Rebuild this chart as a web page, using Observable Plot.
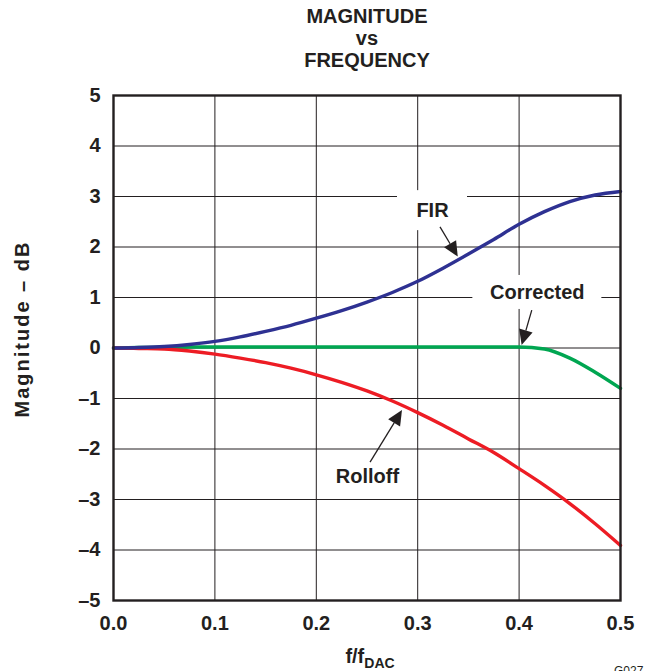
<!DOCTYPE html>
<html><head><meta charset="utf-8">
<script src="https://cdn.jsdelivr.net/npm/d3@7"></script>
<script src="https://cdn.jsdelivr.net/npm/@observablehq/plot@0.6"></script>
<style>
html,body{margin:0;padding:0;background:#fff;overflow:hidden;}
#wrap{position:relative;width:662px;height:671px;overflow:hidden;font-family:"Liberation Sans",Arial,Helvetica,sans-serif;font-weight:bold;color:#231f20;}
#wrap svg{position:absolute;left:0;top:0;}
.title{position:absolute;left:367px;top:5px;transform:translateX(-50%);font-size:20px;line-height:22px;text-align:center;white-space:nowrap;}
.ylab{position:absolute;left:22px;top:329px;transform:translate(-50%,-50%) rotate(-90deg);font-size:20px;line-height:20px;white-space:nowrap;letter-spacing:2px;}
.xlab{position:absolute;left:370px;top:646px;transform:translateX(-50%);font-size:20px;line-height:20px;white-space:nowrap;}
.xlab sub{font-size:14px;line-height:0;vertical-align:-5px;}
.code{position:absolute;left:614px;top:665px;font-size:12px;line-height:12px;font-weight:normal;white-space:nowrap;}
</style></head><body><div id="wrap"></div>
<script>
// Data
const freq      = [0, 0.025, 0.05, 0.075, 0.1, 0.125, 0.15, 0.175, 0.2, 0.225, 0.25, 0.275, 0.3, 0.325, 0.35, 0.375, 0.4, 0.425, 0.45, 0.475, 0.5];
const fir       = [0, 0.01, 0.03, 0.07, 0.13, 0.22, 0.33, 0.45, 0.59, 0.74, 0.91, 1.1, 1.32, 1.58, 1.86, 2.15, 2.45, 2.7, 2.9, 3.03, 3.1];
const rolloff   = [0, -0.01, -0.02, -0.06, -0.12, -0.2, -0.29, -0.4, -0.53, -0.68, -0.85, -1.05, -1.28, -1.53, -1.8, -2.07, -2.39, -2.72, -3.08, -3.48, -3.91];
const corrected = [0, 0.01, 0.01, 0.02, 0.02, 0.02, 0.02, 0.02, 0.02, 0.02, 0.02, 0.02, 0.02, 0.02, 0.02, 0.02, 0.02, -0.02, -0.2, -0.48, -0.8];

const xTicks = [0, 0.1, 0.2, 0.3, 0.4, 0.5];
const yTicks = [-5, -4, -3, -2, -1, 0, 1, 2, 3, 4, 5];

const labelNames = ["FIR", "Corrected", "Rolloff"];
const labelX = [0.3146, 0.418, 0.2505];
const labelY = [2.72, 1.10, -2.54];

// annotation arrows: tail (x1,y1) -> head (x2,y2), data units
const arrowX1 = [0.3225, 0.413, 0.2535];
const arrowY1 = [2.39, 0.74, -2.27];
const arrowX2 = [0.340, 0.403, 0.285];
const arrowY2 = [1.80, 0.05, -1.24];

const toRows = vals => freq.map((f, i) => ({f, v: vals[i]}));
const labels = labelNames.map((t, i) => ({t, x: labelX[i], y: labelY[i]}));

const ink = "#231f20";
const boxSize = {FIR: [70, 40], Corrected: [129, 34], Rolloff: [95, 35]};

function boxes(index, scales) {
  const g = d3.create("svg:g");
  labels.forEach(l => {
    const [w, h] = boxSize[l.t];
    const cx = scales.x(l.x), cy = scales.y(l.y);
    g.append("rect").attr("x", cx - w / 2).attr("y", cy - h / 2)
      .attr("width", w).attr("height", h).attr("fill", "white");
  });
  return g.node();
}

function arrows(index, scales) {
  const g = d3.create("svg:g");
  const head = 15, half = 7;
  for (let i = 0; i < arrowX1.length; i++) {
    const x1 = scales.x(arrowX1[i]), y1 = scales.y(arrowY1[i]);
    const x2 = scales.x(arrowX2[i]), y2 = scales.y(arrowY2[i]);
    const dx = x2 - x1, dy = y2 - y1, len = Math.hypot(dx, dy);
    const ux = dx / len, uy = dy / len;
    const bx = x2 - ux * head, by = y2 - uy * head;
    const px = -uy, py = ux;
    g.append("line").attr("x1", x1).attr("y1", y1).attr("x2", bx).attr("y2", by)
      .attr("stroke", ink).attr("stroke-width", 1.3);
    g.append("polygon")
      .attr("points", `${x2},${y2} ${bx + px * half},${by + py * half} ${bx - px * half},${by - py * half}`)
      .attr("fill", ink);
  }
  return g.node();
}

const chart = Plot.plot({
  width: 662,
  height: 671,
  marginTop: 95,
  marginBottom: 71,
  marginLeft: 113,
  marginRight: 42,
  x: {domain: [0, 0.5]},
  y: {domain: [-5, 5]},
  style: {fontFamily: '"Liberation Sans", Arial, Helvetica, sans-serif', fontWeight: "bold", fontSize: "20px", color: ink, background: "transparent", overflow: "visible"},
  marks: [
    Plot.gridX(xTicks, {stroke: ink, strokeOpacity: 1, strokeWidth: 1}),
    Plot.gridY(yTicks, {stroke: ink, strokeOpacity: 1, strokeWidth: 1}),
    Plot.axisX(xTicks, {tickSize: 0, tickPadding: 15, tickFormat: d => d.toFixed(1), label: null, fontSize: 20, fontWeight: "bold", fill: ink}),
    Plot.axisY(yTicks, {tickSize: 0, tickPadding: 13, tickFormat: d => d < 0 ? "\u2013" + Math.abs(d) : String(d), label: null, fontSize: 20, fontWeight: "bold", fill: ink}),
    boxes,
    Plot.line(toRows(corrected), {x: "f", y: "v", stroke: "#00a651", strokeWidth: 3.4, curve: "monotone-x"}),
    Plot.line(toRows(rolloff), {x: "f", y: "v", stroke: "#ed1c24", strokeWidth: 3.4, curve: "monotone-x"}),
    Plot.line(toRows(fir), {x: "f", y: "v", stroke: "#2e3192", strokeWidth: 3.4, curve: "monotone-x"}),
    arrows,
    Plot.text(labels, {x: "x", y: "y", text: "t", fontSize: 20, fontWeight: "bold", fill: ink}),
    Plot.frame({stroke: ink, strokeWidth: 2.4})
  ]
});

const wrap = document.getElementById("wrap");
wrap.appendChild(chart);
const title = document.createElement("div");
title.className = "title";
title.innerHTML = "MAGNITUDE<br>vs<br>FREQUENCY";
wrap.appendChild(title);
const ylab = document.createElement("div");
ylab.className = "ylab";
ylab.textContent = "Magnitude \u2013 dB";
wrap.appendChild(ylab);
const xlab = document.createElement("div");
xlab.className = "xlab";
xlab.innerHTML = "f/f<sub>DAC</sub>";
wrap.appendChild(xlab);
const code = document.createElement("div");
code.className = "code";
code.textContent = "G027";
wrap.appendChild(code);
</script>
</body></html>
